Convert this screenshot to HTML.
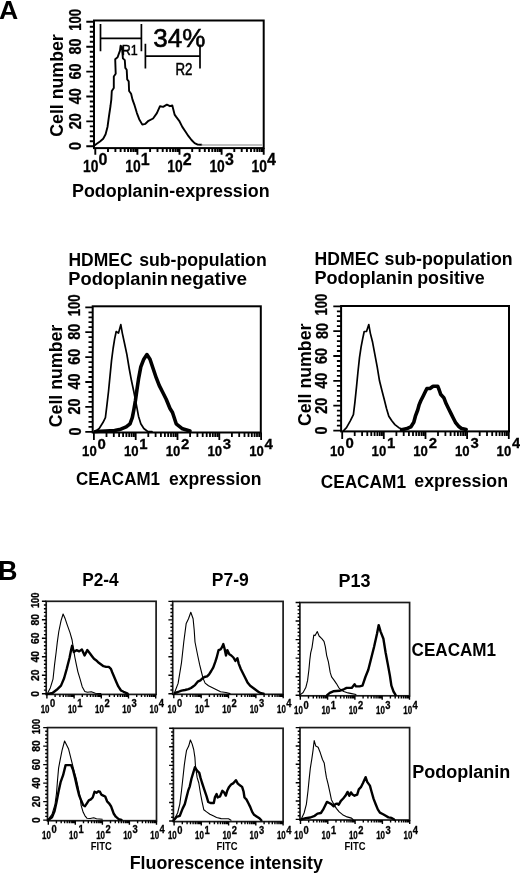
<!DOCTYPE html>
<html><head><meta charset="utf-8"><style>
html,body{margin:0;padding:0;background:#fff;}
svg{display:block;}
text{font-family:'Liberation Sans', Arial, sans-serif;fill:#000;}
</style></head><body>
<svg width="520" height="877" viewBox="0 0 520 877">
<rect width="520" height="877" fill="#fff"/>
<text x="-0.9" y="18.7" font-size="26.6" font-weight="bold">A</text>
<rect x="94.0" y="20.5" width="169.7" height="127.6" fill="none" stroke="#000" stroke-width="2"/>
<path d="M94.0,146.3H86.3M94.0,141.3H89.8M94.0,136.3H89.8M94.0,131.4H89.8M94.0,126.4H89.8M94.0,121.4H86.3M94.0,116.4H89.8M94.0,111.4H89.8M94.0,106.5H89.8M94.0,101.5H89.8M94.0,96.5H86.3M94.0,91.5H89.8M94.0,86.5H89.8M94.0,81.6H89.8M94.0,76.6H89.8M94.0,71.6H86.3M94.0,66.6H89.8M94.0,61.6H89.8M94.0,56.7H89.8M94.0,51.7H89.8M94.0,46.7H86.3M94.0,41.7H89.8M94.0,36.7H89.8M94.0,31.8H89.8M94.0,26.8H89.8M94.0,21.8H86.3M95.3,148.1V154.8M108.0,148.1V152.1M115.4,148.1V152.1M120.6,148.1V152.1M124.7,148.1V152.1M128.1,148.1V152.1M130.9,148.1V152.1M133.3,148.1V152.1M135.5,148.1V152.1M137.4,148.1V154.8M150.1,148.1V152.1M157.5,148.1V152.1M162.7,148.1V152.1M166.8,148.1V152.1M170.2,148.1V152.1M173.0,148.1V152.1M175.4,148.1V152.1M177.6,148.1V152.1M179.5,148.1V154.8M192.2,148.1V152.1M199.6,148.1V152.1M204.8,148.1V152.1M208.9,148.1V152.1M212.3,148.1V152.1M215.1,148.1V152.1M217.5,148.1V152.1M219.7,148.1V152.1M221.6,148.1V154.8M234.3,148.1V152.1M241.7,148.1V152.1M246.9,148.1V152.1M251.0,148.1V152.1M254.4,148.1V152.1M257.2,148.1V152.1M259.6,148.1V152.1M261.8,148.1V152.1M263.7,148.1V154.8" fill="none" stroke="#000" stroke-width="1.9"/>
<text x="81.2" y="146.0" font-size="16" font-weight="bold" stroke="#000" stroke-width="0.3" text-anchor="middle" textLength="8.0" lengthAdjust="spacingAndGlyphs" transform="rotate(-90 81.2 146.0)">0</text>
<text x="81.2" y="121.2" font-size="16" font-weight="bold" stroke="#000" stroke-width="0.3" text-anchor="middle" textLength="16" lengthAdjust="spacingAndGlyphs" transform="rotate(-90 81.2 121.2)">20</text>
<text x="81.2" y="96.3" font-size="16" font-weight="bold" stroke="#000" stroke-width="0.3" text-anchor="middle" textLength="16" lengthAdjust="spacingAndGlyphs" transform="rotate(-90 81.2 96.3)">40</text>
<text x="81.2" y="71.5" font-size="16" font-weight="bold" stroke="#000" stroke-width="0.3" text-anchor="middle" textLength="16" lengthAdjust="spacingAndGlyphs" transform="rotate(-90 81.2 71.5)">60</text>
<text x="81.2" y="46.6" font-size="16" font-weight="bold" stroke="#000" stroke-width="0.3" text-anchor="middle" textLength="16" lengthAdjust="spacingAndGlyphs" transform="rotate(-90 81.2 46.6)">80</text>
<text x="81.2" y="19.8" font-size="16" font-weight="bold" stroke="#000" stroke-width="0.3" text-anchor="middle" textLength="22" lengthAdjust="spacingAndGlyphs" transform="rotate(-90 81.2 19.8)">100</text>
<text x="63.0" y="85.5" font-size="18.5" font-weight="bold" text-anchor="middle" textLength="102.5" lengthAdjust="spacingAndGlyphs" transform="rotate(-90 63.0 85.5)">Cell number</text>
<text x="98.5" y="172.3" font-size="16" font-weight="bold" stroke="#000" stroke-width="0.3" text-anchor="end" textLength="15.4" lengthAdjust="spacingAndGlyphs">10</text>
<text x="98.6" y="164.6" font-size="16" font-weight="bold" stroke="#000" stroke-width="0.3" textLength="8.9" lengthAdjust="spacingAndGlyphs">0</text>
<text x="140.6" y="172.3" font-size="16" font-weight="bold" stroke="#000" stroke-width="0.3" text-anchor="end" textLength="15.4" lengthAdjust="spacingAndGlyphs">10</text>
<text x="140.7" y="164.6" font-size="16" font-weight="bold" stroke="#000" stroke-width="0.3" textLength="8.9" lengthAdjust="spacingAndGlyphs">1</text>
<text x="182.7" y="172.3" font-size="16" font-weight="bold" stroke="#000" stroke-width="0.3" text-anchor="end" textLength="15.4" lengthAdjust="spacingAndGlyphs">10</text>
<text x="182.8" y="164.6" font-size="16" font-weight="bold" stroke="#000" stroke-width="0.3" textLength="8.9" lengthAdjust="spacingAndGlyphs">2</text>
<text x="224.8" y="172.3" font-size="16" font-weight="bold" stroke="#000" stroke-width="0.3" text-anchor="end" textLength="15.4" lengthAdjust="spacingAndGlyphs">10</text>
<text x="224.9" y="164.6" font-size="16" font-weight="bold" stroke="#000" stroke-width="0.3" textLength="8.9" lengthAdjust="spacingAndGlyphs">3</text>
<text x="266.9" y="172.3" font-size="16" font-weight="bold" stroke="#000" stroke-width="0.3" text-anchor="end" textLength="15.4" lengthAdjust="spacingAndGlyphs">10</text>
<text x="267.0" y="164.6" font-size="16" font-weight="bold" stroke="#000" stroke-width="0.3" textLength="8.9" lengthAdjust="spacingAndGlyphs">4</text>
<text x="72" y="196.8" font-size="18" font-weight="bold" textLength="197.6" lengthAdjust="spacingAndGlyphs">Podoplanin-expression</text>
<path d="M100.5,24V51.3M100.5,38.3H141.4M141.4,24V51.3" fill="none" stroke="#000" stroke-width="1.7"/>
<path d="M145.4,43.8V68.4M145.4,56.2H200M200,44.6V68.4" fill="none" stroke="#000" stroke-width="1.7"/>
<text x="121.8" y="55.2" font-size="14.5" textLength="16" lengthAdjust="spacingAndGlyphs" stroke="#000" stroke-width="0.5">R1</text>
<text x="175.4" y="75.0" font-size="16" textLength="17" lengthAdjust="spacingAndGlyphs" stroke="#000" stroke-width="0.5">R2</text>
<text x="153.3" y="47.0" font-size="26" textLength="52" lengthAdjust="spacingAndGlyphs" stroke="#000" stroke-width="0.6">34%</text>
<polyline points="93.8,146.0 96.4,144.0 100.0,141.5 103.2,138.7 105.6,134.3 107.5,127.0 109.0,116.0 110.5,106.0 111.3,99.6 111.8,91.0 113.8,88.0 113.8,76.5 115.7,73.7 115.2,59.2 117.6,57.3 118.6,54.4 120.0,50.6 120.6,45.8 121.9,46.7 122.9,58.3 124.8,60.2 125.3,67.9 126.7,69.8 127.2,79.4 128.7,81.3 129.1,91.0 131.1,93.8 132.5,99.6 134.6,105.4 136.9,113.1 139.2,119.2 142.3,124.6 145.4,123.8 148.5,120.8 153.1,118.5 156.9,113.1 160.0,106.2 163.1,106.9 166.9,104.6 170.0,106.2 172.3,105.4 174.6,114.6 176.2,116.9 179.2,120.8 182.3,126.9 185.4,131.5 188.5,136.2 191.5,140.0 194.6,143.1 197.7,144.6 201.5,144.8" fill="none" stroke="#000" stroke-width="1.9" stroke-linejoin="round" stroke-linecap="round"/>
<line x1="201.5" y1="145" x2="262" y2="145" stroke="#aaa" stroke-width="1.6"/>
<text x="68.5" y="265.8" font-size="18.2" font-weight="bold" textLength="64" lengthAdjust="spacingAndGlyphs">HDMEC</text>
<text x="139.2" y="265.8" font-size="18.2" font-weight="bold" textLength="127.5" lengthAdjust="spacingAndGlyphs">sub-population</text>
<text x="68.3" y="285.2" font-size="18.2" font-weight="bold" textLength="99.5" lengthAdjust="spacingAndGlyphs">Podoplanin</text>
<text x="170.2" y="285.2" font-size="18.2" font-weight="bold" textLength="77" lengthAdjust="spacingAndGlyphs">negative</text>
<rect x="92.7" y="306.3" width="168.1" height="126.2" fill="none" stroke="#000" stroke-width="2"/>
<path d="M92.7,431.8H85.3M92.7,426.8H88.5M92.7,421.8H88.5M92.7,416.9H88.5M92.7,411.9H88.5M92.7,406.9H85.3M92.7,401.9H88.5M92.7,396.9H88.5M92.7,392.0H88.5M92.7,387.0H88.5M92.7,382.0H85.3M92.7,377.0H88.5M92.7,372.0H88.5M92.7,367.1H88.5M92.7,362.1H88.5M92.7,357.1H85.3M92.7,352.1H88.5M92.7,347.1H88.5M92.7,342.2H88.5M92.7,337.2H88.5M92.7,332.2H85.3M92.7,327.2H88.5M92.7,322.2H88.5M92.7,317.3H88.5M92.7,312.3H88.5M92.7,307.3H85.3M93.9,432.5V440.0M106.5,432.5V437.0M113.8,432.5V437.0M119.1,432.5V437.0M123.1,432.5V437.0M126.4,432.5V437.0M129.2,432.5V437.0M131.6,432.5V437.0M133.8,432.5V437.0M135.7,432.5V440.0M148.3,432.5V437.0M155.6,432.5V437.0M160.9,432.5V437.0M164.9,432.5V437.0M168.2,432.5V437.0M171.0,432.5V437.0M173.4,432.5V437.0M175.6,432.5V437.0M177.5,432.5V440.0M190.1,432.5V437.0M197.4,432.5V437.0M202.7,432.5V437.0M206.7,432.5V437.0M210.0,432.5V437.0M212.8,432.5V437.0M215.2,432.5V437.0M217.4,432.5V437.0M219.3,432.5V440.0M231.9,432.5V437.0M239.2,432.5V437.0M244.5,432.5V437.0M248.5,432.5V437.0M251.8,432.5V437.0M254.6,432.5V437.0M257.0,432.5V437.0M259.2,432.5V437.0M261.1,432.5V440.0" fill="none" stroke="#000" stroke-width="1.8"/>
<text x="80.5" y="431.5" font-size="16" font-weight="bold" stroke="#000" stroke-width="0.3" text-anchor="middle" textLength="8.0" lengthAdjust="spacingAndGlyphs" transform="rotate(-90 80.5 431.5)">0</text>
<text x="80.5" y="406.6" font-size="16" font-weight="bold" stroke="#000" stroke-width="0.3" text-anchor="middle" textLength="16" lengthAdjust="spacingAndGlyphs" transform="rotate(-90 80.5 406.6)">20</text>
<text x="80.5" y="381.6" font-size="16" font-weight="bold" stroke="#000" stroke-width="0.3" text-anchor="middle" textLength="16" lengthAdjust="spacingAndGlyphs" transform="rotate(-90 80.5 381.6)">40</text>
<text x="80.5" y="356.7" font-size="16" font-weight="bold" stroke="#000" stroke-width="0.3" text-anchor="middle" textLength="16" lengthAdjust="spacingAndGlyphs" transform="rotate(-90 80.5 356.7)">60</text>
<text x="80.5" y="331.7" font-size="16" font-weight="bold" stroke="#000" stroke-width="0.3" text-anchor="middle" textLength="16" lengthAdjust="spacingAndGlyphs" transform="rotate(-90 80.5 331.7)">80</text>
<text x="80.5" y="305.3" font-size="16" font-weight="bold" stroke="#000" stroke-width="0.3" text-anchor="middle" textLength="22" lengthAdjust="spacingAndGlyphs" transform="rotate(-90 80.5 305.3)">100</text>
<text x="61.6" y="376.0" font-size="18.5" font-weight="bold" text-anchor="middle" textLength="102.5" lengthAdjust="spacingAndGlyphs" transform="rotate(-90 61.6 376.0)">Cell number</text>
<text x="96.7" y="456.2" font-size="15" font-weight="bold" stroke="#000" stroke-width="0.3" text-anchor="end" textLength="14.6" lengthAdjust="spacingAndGlyphs">10</text>
<text x="97.4" y="449" font-size="15" font-weight="bold" stroke="#000" stroke-width="0.3" textLength="8.3" lengthAdjust="spacingAndGlyphs">0</text>
<text x="138.5" y="456.2" font-size="15" font-weight="bold" stroke="#000" stroke-width="0.3" text-anchor="end" textLength="14.6" lengthAdjust="spacingAndGlyphs">10</text>
<text x="139.2" y="449" font-size="15" font-weight="bold" stroke="#000" stroke-width="0.3" textLength="8.3" lengthAdjust="spacingAndGlyphs">1</text>
<text x="180.3" y="456.2" font-size="15" font-weight="bold" stroke="#000" stroke-width="0.3" text-anchor="end" textLength="14.6" lengthAdjust="spacingAndGlyphs">10</text>
<text x="181.0" y="449" font-size="15" font-weight="bold" stroke="#000" stroke-width="0.3" textLength="8.3" lengthAdjust="spacingAndGlyphs">2</text>
<text x="222.1" y="456.2" font-size="15" font-weight="bold" stroke="#000" stroke-width="0.3" text-anchor="end" textLength="14.6" lengthAdjust="spacingAndGlyphs">10</text>
<text x="222.8" y="449" font-size="15" font-weight="bold" stroke="#000" stroke-width="0.3" textLength="8.3" lengthAdjust="spacingAndGlyphs">3</text>
<text x="263.9" y="456.2" font-size="15" font-weight="bold" stroke="#000" stroke-width="0.3" text-anchor="end" textLength="14.6" lengthAdjust="spacingAndGlyphs">10</text>
<text x="264.6" y="449" font-size="15" font-weight="bold" stroke="#000" stroke-width="0.3" textLength="8.3" lengthAdjust="spacingAndGlyphs">4</text>
<text x="76.0" y="484.8" font-size="17.5" font-weight="bold" textLength="84" lengthAdjust="spacingAndGlyphs">CEACAM1</text>
<text x="169.0" y="484.8" font-size="17.5" font-weight="bold" textLength="92.5" lengthAdjust="spacingAndGlyphs">expression</text>
<text x="314.6" y="264.6" font-size="18.2" font-weight="bold" textLength="64.5" lengthAdjust="spacingAndGlyphs">HDMEC</text>
<text x="384.6" y="264.6" font-size="18.2" font-weight="bold" textLength="128" lengthAdjust="spacingAndGlyphs">sub-population</text>
<text x="314.5" y="284.2" font-size="18.2" font-weight="bold" textLength="98.5" lengthAdjust="spacingAndGlyphs">Podoplanin</text>
<text x="417.2" y="284.2" font-size="18.2" font-weight="bold" textLength="67.5" lengthAdjust="spacingAndGlyphs">positive</text>
<rect x="341.1" y="306.0" width="167.9" height="125.4" fill="none" stroke="#000" stroke-width="2"/>
<path d="M341.1,430.6H333.3M341.1,425.6H336.9M341.1,420.7H336.9M341.1,415.7H336.9M341.1,410.7H336.9M341.1,405.7H333.3M341.1,400.8H336.9M341.1,395.8H336.9M341.1,390.8H336.9M341.1,385.9H336.9M341.1,380.9H333.3M341.1,375.9H336.9M341.1,370.9H336.9M341.1,366.0H336.9M341.1,361.0H336.9M341.1,356.0H333.3M341.1,351.0H336.9M341.1,346.1H336.9M341.1,341.1H336.9M341.1,336.1H336.9M341.1,331.2H333.3M341.1,326.2H336.9M341.1,321.2H336.9M341.1,316.2H336.9M341.1,311.3H336.9M341.1,306.3H333.3M342.2,431.4V439.0M354.7,431.4V435.9M362.1,431.4V435.9M367.3,431.4V435.9M371.3,431.4V435.9M374.6,431.4V435.9M377.4,431.4V435.9M379.8,431.4V435.9M381.9,431.4V435.9M383.8,431.4V439.0M396.4,431.4V435.9M403.7,431.4V435.9M408.9,431.4V435.9M413.0,431.4V435.9M416.3,431.4V435.9M419.0,431.4V435.9M421.5,431.4V435.9M423.6,431.4V435.9M425.5,431.4V439.0M438.0,431.4V435.9M445.4,431.4V435.9M450.6,431.4V435.9M454.6,431.4V435.9M457.9,431.4V435.9M460.7,431.4V435.9M463.1,431.4V435.9M465.2,431.4V435.9M467.1,431.4V439.0M479.7,431.4V435.9M487.0,431.4V435.9M492.2,431.4V435.9M496.3,431.4V435.9M499.6,431.4V435.9M502.3,431.4V435.9M504.8,431.4V435.9M506.9,431.4V435.9M508.8,431.4V439.0" fill="none" stroke="#000" stroke-width="1.8"/>
<text x="327.5" y="430.6" font-size="16" font-weight="bold" stroke="#000" stroke-width="0.3" text-anchor="middle" textLength="8.0" lengthAdjust="spacingAndGlyphs" transform="rotate(-90 327.5 430.6)">0</text>
<text x="327.5" y="405.7" font-size="16" font-weight="bold" stroke="#000" stroke-width="0.3" text-anchor="middle" textLength="16" lengthAdjust="spacingAndGlyphs" transform="rotate(-90 327.5 405.7)">20</text>
<text x="327.5" y="380.8" font-size="16" font-weight="bold" stroke="#000" stroke-width="0.3" text-anchor="middle" textLength="16" lengthAdjust="spacingAndGlyphs" transform="rotate(-90 327.5 380.8)">40</text>
<text x="327.5" y="355.9" font-size="16" font-weight="bold" stroke="#000" stroke-width="0.3" text-anchor="middle" textLength="16" lengthAdjust="spacingAndGlyphs" transform="rotate(-90 327.5 355.9)">60</text>
<text x="327.5" y="331.0" font-size="16" font-weight="bold" stroke="#000" stroke-width="0.3" text-anchor="middle" textLength="16" lengthAdjust="spacingAndGlyphs" transform="rotate(-90 327.5 331.0)">80</text>
<text x="327.5" y="304.6" font-size="16" font-weight="bold" stroke="#000" stroke-width="0.3" text-anchor="middle" textLength="22" lengthAdjust="spacingAndGlyphs" transform="rotate(-90 327.5 304.6)">100</text>
<text x="311.0" y="374.8" font-size="18.5" font-weight="bold" text-anchor="middle" textLength="102.5" lengthAdjust="spacingAndGlyphs" transform="rotate(-90 311.0 374.8)">Cell number</text>
<text x="344.6" y="455.7" font-size="15" font-weight="bold" stroke="#000" stroke-width="0.3" text-anchor="end" textLength="14.6" lengthAdjust="spacingAndGlyphs">10</text>
<text x="345.5" y="447.8" font-size="15" font-weight="bold" stroke="#000" stroke-width="0.3" textLength="8.3" lengthAdjust="spacingAndGlyphs">0</text>
<text x="386.2" y="455.7" font-size="15" font-weight="bold" stroke="#000" stroke-width="0.3" text-anchor="end" textLength="14.6" lengthAdjust="spacingAndGlyphs">10</text>
<text x="387.1" y="447.8" font-size="15" font-weight="bold" stroke="#000" stroke-width="0.3" textLength="8.3" lengthAdjust="spacingAndGlyphs">1</text>
<text x="427.9" y="455.7" font-size="15" font-weight="bold" stroke="#000" stroke-width="0.3" text-anchor="end" textLength="14.6" lengthAdjust="spacingAndGlyphs">10</text>
<text x="428.8" y="447.8" font-size="15" font-weight="bold" stroke="#000" stroke-width="0.3" textLength="8.3" lengthAdjust="spacingAndGlyphs">2</text>
<text x="469.5" y="455.7" font-size="15" font-weight="bold" stroke="#000" stroke-width="0.3" text-anchor="end" textLength="14.6" lengthAdjust="spacingAndGlyphs">10</text>
<text x="470.4" y="447.8" font-size="15" font-weight="bold" stroke="#000" stroke-width="0.3" textLength="8.3" lengthAdjust="spacingAndGlyphs">3</text>
<text x="511.2" y="455.7" font-size="15" font-weight="bold" stroke="#000" stroke-width="0.3" text-anchor="end" textLength="14.6" lengthAdjust="spacingAndGlyphs">10</text>
<text x="512.1" y="447.8" font-size="15" font-weight="bold" stroke="#000" stroke-width="0.3" textLength="8.3" lengthAdjust="spacingAndGlyphs">4</text>
<text x="320.7" y="487.6" font-size="17.5" font-weight="bold" textLength="85.3" lengthAdjust="spacingAndGlyphs">CEACAM1</text>
<text x="414.3" y="487.4" font-size="17.5" font-weight="bold" textLength="93.7" lengthAdjust="spacingAndGlyphs">expression</text>
<polyline points="95.4,431.5 99.2,428.5 103.1,422.3 105.4,417.7 106.9,405.4 108.5,391.5 110.0,376.2 111.5,360.8 113.1,348.5 114.6,339.2 116.2,331.5 118.5,333.1 120.8,324.6 122.3,333.1 124.6,343.8 126.9,354.6 129.2,368.5 131.5,380.8 133.8,391.5 136.2,403.8 138.5,416.2 140.8,423.8 143.8,428.5 147.7,431.5 152.0,431.5" fill="none" stroke="#000" stroke-width="1.7" stroke-linejoin="round" stroke-linecap="round"/>
<polyline points="95.4,431.5 105.4,431.0 114.6,430.5 120.8,429.2 126.2,426.9 130.0,423.8 132.3,417.7 133.8,410.0 135.4,400.8 136.9,390.0 138.5,379.2 140.8,366.9 143.8,359.2 146.9,354.6 150.0,359.2 153.1,368.5 156.2,377.7 159.2,385.4 162.3,391.5 166.2,399.2 170.0,408.5 172.5,412.5 176.2,423.8 182.5,428.8 190.0,431.0" fill="none" stroke="#000" stroke-width="3.6" stroke-linejoin="round" stroke-linecap="round"/>
<polyline points="343.4,430.8 346.5,427.7 350.3,420.8 353.4,414.6 354.9,402.3 356.5,386.9 358.0,371.5 359.5,357.7 361.1,346.9 362.6,339.2 364.2,331.5 366.5,331.5 368.8,324.6 370.3,333.1 372.6,342.3 374.9,354.6 377.2,366.9 379.5,380.8 381.8,390.0 384.2,399.2 386.5,408.5 388.8,416.2 391.8,420.8 394.9,424.6 398.8,427.7 402.6,429.2 405.7,429.2 408.8,428.5" fill="none" stroke="#000" stroke-width="1.7" stroke-linejoin="round" stroke-linecap="round"/>
<polyline points="401.5,429.8 406.2,428.8 410.8,426.9 413.8,422.3 415.4,416.2 417.7,410.0 419.2,404.6 420.8,400.8 423.1,396.2 425.4,391.5 426.9,388.5 430.0,388.5 433.1,386.2 437.7,386.2 439.2,390.0 440.8,394.6 443.8,397.7 446.2,403.8 448.5,408.5 450.8,413.1 453.1,417.7 455.4,422.3 458.5,426.2 461.5,428.5 466.2,429.5" fill="none" stroke="#000" stroke-width="3.6" stroke-linejoin="round" stroke-linecap="round"/>
<text x="-2" y="579.6" font-size="27" font-weight="bold">B</text>
<text x="82.2" y="586" font-size="18.5" font-weight="bold" textLength="36.5" lengthAdjust="spacingAndGlyphs">P2-4</text>
<text x="211.8" y="586" font-size="18.5" font-weight="bold" textLength="37" lengthAdjust="spacingAndGlyphs">P7-9</text>
<text x="338.5" y="587.4" font-size="18.5" font-weight="bold" textLength="32" lengthAdjust="spacingAndGlyphs">P13</text>
<text x="411.6" y="655.6" font-size="17.5" font-weight="bold" textLength="84.5" lengthAdjust="spacingAndGlyphs">CEACAM1</text>
<text x="412.2" y="778.3" font-size="18" font-weight="bold" textLength="98" lengthAdjust="spacingAndGlyphs">Podoplanin</text>
<text x="129.7" y="868.6" font-size="18.8" font-weight="bold" textLength="193.2" lengthAdjust="spacingAndGlyphs">Fluorescence intensity</text>
<rect x="46.2" y="601.3" width="109.9" height="93.1" fill="none" stroke="#1a1a1a" stroke-width="1.7"/>
<path d="M46.2,693.8H41.9M46.2,690.1H43.9M46.2,686.4H43.9M46.2,682.7H43.9M46.2,679.0H43.9M46.2,675.3H41.9M46.2,671.6H43.9M46.2,667.9H43.9M46.2,664.2H43.9M46.2,660.5H43.9M46.2,656.8H41.9M46.2,653.1H43.9M46.2,649.4H43.9M46.2,645.7H43.9M46.2,642.0H43.9M46.2,638.3H41.9M46.2,634.6H43.9M46.2,630.9H43.9M46.2,627.2H43.9M46.2,623.5H43.9M46.2,619.8H41.9M46.2,616.1H43.9M46.2,612.4H43.9M46.2,608.7H43.9M46.2,605.0H43.9M46.2,601.3H41.9M46.9,694.4V698.4M55.1,694.4V697.0M59.9,694.4V697.0M63.3,694.4V697.0M65.9,694.4V697.0M68.1,694.4V697.0M69.9,694.4V697.0M71.5,694.4V697.0M72.9,694.4V697.0M74.1,694.4V698.4M82.3,694.4V697.0M87.1,694.4V697.0M90.5,694.4V697.0M93.1,694.4V697.0M95.3,694.4V697.0M97.1,694.4V697.0M98.7,694.4V697.0M100.1,694.4V697.0M101.3,694.4V698.4M109.5,694.4V697.0M114.3,694.4V697.0M117.7,694.4V697.0M120.3,694.4V697.0M122.5,694.4V697.0M124.3,694.4V697.0M125.9,694.4V697.0M127.3,694.4V697.0M128.5,694.4V698.4M136.7,694.4V697.0M141.5,694.4V697.0M144.9,694.4V697.0M147.5,694.4V697.0M149.7,694.4V697.0M151.5,694.4V697.0M153.1,694.4V697.0M154.5,694.4V697.0M155.7,694.4V698.4" fill="none" stroke="#000" stroke-width="1.4"/>
<text x="49.5" y="713.0" font-size="10" font-weight="bold" stroke="#000" stroke-width="0.3" text-anchor="end" textLength="8.8" lengthAdjust="spacingAndGlyphs">10</text>
<text x="50.0" y="707.2" font-size="10" font-weight="bold" stroke="#000" stroke-width="0.3" textLength="5.2" lengthAdjust="spacingAndGlyphs">0</text>
<text x="76.7" y="713.0" font-size="10" font-weight="bold" stroke="#000" stroke-width="0.3" text-anchor="end" textLength="8.8" lengthAdjust="spacingAndGlyphs">10</text>
<text x="77.2" y="707.2" font-size="10" font-weight="bold" stroke="#000" stroke-width="0.3" textLength="5.2" lengthAdjust="spacingAndGlyphs">1</text>
<text x="103.9" y="713.0" font-size="10" font-weight="bold" stroke="#000" stroke-width="0.3" text-anchor="end" textLength="8.8" lengthAdjust="spacingAndGlyphs">10</text>
<text x="104.4" y="707.2" font-size="10" font-weight="bold" stroke="#000" stroke-width="0.3" textLength="5.2" lengthAdjust="spacingAndGlyphs">2</text>
<text x="131.1" y="713.0" font-size="10" font-weight="bold" stroke="#000" stroke-width="0.3" text-anchor="end" textLength="8.8" lengthAdjust="spacingAndGlyphs">10</text>
<text x="131.6" y="707.2" font-size="10" font-weight="bold" stroke="#000" stroke-width="0.3" textLength="5.2" lengthAdjust="spacingAndGlyphs">3</text>
<text x="158.3" y="713.0" font-size="10" font-weight="bold" stroke="#000" stroke-width="0.3" text-anchor="end" textLength="8.8" lengthAdjust="spacingAndGlyphs">10</text>
<text x="158.8" y="707.2" font-size="10" font-weight="bold" stroke="#000" stroke-width="0.3" textLength="5.2" lengthAdjust="spacingAndGlyphs">4</text>
<text x="38.6" y="693.8" font-size="10" font-weight="bold" stroke="#000" stroke-width="0.3" text-anchor="middle" textLength="5.75" lengthAdjust="spacingAndGlyphs" transform="rotate(-90 38.6 693.8)">0</text>
<text x="38.6" y="675.3" font-size="10" font-weight="bold" stroke="#000" stroke-width="0.3" text-anchor="middle" textLength="11.5" lengthAdjust="spacingAndGlyphs" transform="rotate(-90 38.6 675.3)">20</text>
<text x="38.6" y="656.8" font-size="10" font-weight="bold" stroke="#000" stroke-width="0.3" text-anchor="middle" textLength="11.5" lengthAdjust="spacingAndGlyphs" transform="rotate(-90 38.6 656.8)">40</text>
<text x="38.6" y="638.3" font-size="10" font-weight="bold" stroke="#000" stroke-width="0.3" text-anchor="middle" textLength="11.5" lengthAdjust="spacingAndGlyphs" transform="rotate(-90 38.6 638.3)">60</text>
<text x="38.6" y="619.8" font-size="10" font-weight="bold" stroke="#000" stroke-width="0.3" text-anchor="middle" textLength="11.5" lengthAdjust="spacingAndGlyphs" transform="rotate(-90 38.6 619.8)">80</text>
<text x="38.6" y="600.3" font-size="10" font-weight="bold" stroke="#000" stroke-width="0.3" text-anchor="middle" textLength="15.5" lengthAdjust="spacingAndGlyphs" transform="rotate(-90 38.6 600.3)">100</text>
<rect x="172.7" y="601.4" width="110.4" height="92.9" fill="none" stroke="#1a1a1a" stroke-width="1.7"/>
<path d="M172.7,693.7H168.4M172.7,690.0H170.4M172.7,686.3H170.4M172.7,682.6H170.4M172.7,678.9H170.4M172.7,675.2H168.4M172.7,671.5H170.4M172.7,667.9H170.4M172.7,664.2H170.4M172.7,660.5H170.4M172.7,656.8H168.4M172.7,653.1H170.4M172.7,649.4H170.4M172.7,645.7H170.4M172.7,642.0H170.4M172.7,638.3H168.4M172.7,634.6H170.4M172.7,630.9H170.4M172.7,627.2H170.4M172.7,623.6H170.4M172.7,619.9H168.4M172.7,616.2H170.4M172.7,612.5H170.4M172.7,608.8H170.4M172.7,605.1H170.4M172.7,601.4H168.4M173.8,694.3V698.3M182.0,694.3V696.9M186.8,694.3V696.9M190.3,694.3V696.9M192.9,694.3V696.9M195.1,694.3V696.9M196.9,694.3V696.9M198.5,694.3V696.9M199.9,694.3V696.9M201.2,694.3V698.3M209.4,694.3V696.9M214.2,694.3V696.9M217.6,694.3V696.9M220.3,694.3V696.9M222.4,694.3V696.9M224.3,694.3V696.9M225.8,694.3V696.9M227.2,694.3V696.9M228.5,694.3V698.3M236.7,694.3V696.9M241.5,694.3V696.9M245.0,694.3V696.9M247.6,694.3V696.9M249.8,694.3V696.9M251.6,694.3V696.9M253.2,694.3V696.9M254.6,694.3V696.9M255.9,694.3V698.3M264.1,694.3V696.9M268.9,694.3V696.9M272.3,694.3V696.9M275.0,694.3V696.9M277.1,694.3V696.9M279.0,694.3V696.9M280.5,694.3V696.9M281.9,694.3V696.9M283.2,694.3V698.3" fill="none" stroke="#000" stroke-width="1.4"/>
<text x="176.4" y="713.0" font-size="10" font-weight="bold" stroke="#000" stroke-width="0.3" text-anchor="end" textLength="8.8" lengthAdjust="spacingAndGlyphs">10</text>
<text x="176.9" y="707.2" font-size="10" font-weight="bold" stroke="#000" stroke-width="0.3" textLength="5.2" lengthAdjust="spacingAndGlyphs">0</text>
<text x="203.8" y="713.0" font-size="10" font-weight="bold" stroke="#000" stroke-width="0.3" text-anchor="end" textLength="8.8" lengthAdjust="spacingAndGlyphs">10</text>
<text x="204.2" y="707.2" font-size="10" font-weight="bold" stroke="#000" stroke-width="0.3" textLength="5.2" lengthAdjust="spacingAndGlyphs">1</text>
<text x="231.1" y="713.0" font-size="10" font-weight="bold" stroke="#000" stroke-width="0.3" text-anchor="end" textLength="8.8" lengthAdjust="spacingAndGlyphs">10</text>
<text x="231.6" y="707.2" font-size="10" font-weight="bold" stroke="#000" stroke-width="0.3" textLength="5.2" lengthAdjust="spacingAndGlyphs">2</text>
<text x="258.5" y="713.0" font-size="10" font-weight="bold" stroke="#000" stroke-width="0.3" text-anchor="end" textLength="8.8" lengthAdjust="spacingAndGlyphs">10</text>
<text x="259.0" y="707.2" font-size="10" font-weight="bold" stroke="#000" stroke-width="0.3" textLength="5.2" lengthAdjust="spacingAndGlyphs">3</text>
<text x="285.8" y="713.0" font-size="10" font-weight="bold" stroke="#000" stroke-width="0.3" text-anchor="end" textLength="8.8" lengthAdjust="spacingAndGlyphs">10</text>
<text x="286.3" y="707.2" font-size="10" font-weight="bold" stroke="#000" stroke-width="0.3" textLength="5.2" lengthAdjust="spacingAndGlyphs">4</text>
<rect x="299.9" y="602.5" width="109.7" height="93.3" fill="none" stroke="#1a1a1a" stroke-width="1.7"/>
<path d="M299.9,695.2H295.6M299.9,691.5H297.6M299.9,687.8H297.6M299.9,684.1H297.6M299.9,680.4H297.6M299.9,676.7H295.6M299.9,673.0H297.6M299.9,669.2H297.6M299.9,665.5H297.6M299.9,661.8H297.6M299.9,658.1H295.6M299.9,654.4H297.6M299.9,650.7H297.6M299.9,647.0H297.6M299.9,643.3H297.6M299.9,639.6H295.6M299.9,635.9H297.6M299.9,632.2H297.6M299.9,628.5H297.6M299.9,624.7H297.6M299.9,621.0H295.6M299.9,617.3H297.6M299.9,613.6H297.6M299.9,609.9H297.6M299.9,606.2H297.6M299.9,602.5H295.6M300.3,695.8V699.8M308.5,695.8V698.4M313.3,695.8V698.4M316.7,695.8V698.4M319.4,695.8V698.4M321.5,695.8V698.4M323.4,695.8V698.4M325.0,695.8V698.4M326.4,695.8V698.4M327.6,695.8V699.8M335.8,695.8V698.4M340.6,695.8V698.4M344.0,695.8V698.4M346.7,695.8V698.4M348.8,695.8V698.4M350.7,695.8V698.4M352.3,695.8V698.4M353.7,695.8V698.4M354.9,695.8V699.8M363.1,695.8V698.4M367.9,695.8V698.4M371.3,695.8V698.4M374.0,695.8V698.4M376.1,695.8V698.4M378.0,695.8V698.4M379.6,695.8V698.4M381.0,695.8V698.4M382.2,695.8V699.8M390.4,695.8V698.4M395.2,695.8V698.4M398.6,695.8V698.4M401.3,695.8V698.4M403.4,695.8V698.4M405.3,695.8V698.4M406.9,695.8V698.4M408.3,695.8V698.4M409.5,695.8V699.8" fill="none" stroke="#000" stroke-width="1.4"/>
<text x="302.9" y="713.6" font-size="10" font-weight="bold" stroke="#000" stroke-width="0.3" text-anchor="end" textLength="8.8" lengthAdjust="spacingAndGlyphs">10</text>
<text x="303.4" y="708.6" font-size="10" font-weight="bold" stroke="#000" stroke-width="0.3" textLength="5.2" lengthAdjust="spacingAndGlyphs">0</text>
<text x="330.2" y="713.6" font-size="10" font-weight="bold" stroke="#000" stroke-width="0.3" text-anchor="end" textLength="8.8" lengthAdjust="spacingAndGlyphs">10</text>
<text x="330.7" y="708.6" font-size="10" font-weight="bold" stroke="#000" stroke-width="0.3" textLength="5.2" lengthAdjust="spacingAndGlyphs">1</text>
<text x="357.5" y="713.6" font-size="10" font-weight="bold" stroke="#000" stroke-width="0.3" text-anchor="end" textLength="8.8" lengthAdjust="spacingAndGlyphs">10</text>
<text x="358.0" y="708.6" font-size="10" font-weight="bold" stroke="#000" stroke-width="0.3" textLength="5.2" lengthAdjust="spacingAndGlyphs">2</text>
<text x="384.8" y="713.6" font-size="10" font-weight="bold" stroke="#000" stroke-width="0.3" text-anchor="end" textLength="8.8" lengthAdjust="spacingAndGlyphs">10</text>
<text x="385.3" y="708.6" font-size="10" font-weight="bold" stroke="#000" stroke-width="0.3" textLength="5.2" lengthAdjust="spacingAndGlyphs">3</text>
<text x="412.1" y="713.6" font-size="10" font-weight="bold" stroke="#000" stroke-width="0.3" text-anchor="end" textLength="8.8" lengthAdjust="spacingAndGlyphs">10</text>
<text x="412.6" y="708.6" font-size="10" font-weight="bold" stroke="#000" stroke-width="0.3" textLength="5.2" lengthAdjust="spacingAndGlyphs">4</text>
<rect x="47.5" y="727.6" width="109.0" height="93.1" fill="none" stroke="#1a1a1a" stroke-width="1.7"/>
<path d="M47.5,820.1H43.2M47.5,816.4H45.2M47.5,812.7H45.2M47.5,809.0H45.2M47.5,805.3H45.2M47.5,801.6H43.2M47.5,797.9H45.2M47.5,794.2H45.2M47.5,790.5H45.2M47.5,786.8H45.2M47.5,783.1H43.2M47.5,779.4H45.2M47.5,775.7H45.2M47.5,772.0H45.2M47.5,768.3H45.2M47.5,764.6H43.2M47.5,760.9H45.2M47.5,757.2H45.2M47.5,753.5H45.2M47.5,749.8H45.2M47.5,746.1H43.2M47.5,742.4H45.2M47.5,738.7H45.2M47.5,735.0H45.2M47.5,731.3H45.2M47.5,727.6H43.2M48.3,820.7V824.7M56.4,820.7V823.3M61.2,820.7V823.3M64.6,820.7V823.3M67.2,820.7V823.3M69.3,820.7V823.3M71.2,820.7V823.3M72.7,820.7V823.3M74.1,820.7V823.3M75.3,820.7V824.7M83.5,820.7V823.3M88.3,820.7V823.3M91.6,820.7V823.3M94.3,820.7V823.3M96.4,820.7V823.3M98.2,820.7V823.3M99.8,820.7V823.3M101.2,820.7V823.3M102.4,820.7V824.7M110.5,820.7V823.3M115.3,820.7V823.3M118.7,820.7V823.3M121.3,820.7V823.3M123.4,820.7V823.3M125.3,820.7V823.3M126.8,820.7V823.3M128.2,820.7V823.3M129.4,820.7V824.7M137.6,820.7V823.3M142.4,820.7V823.3M145.7,820.7V823.3M148.4,820.7V823.3M150.5,820.7V823.3M152.3,820.7V823.3M153.9,820.7V823.3M155.3,820.7V823.3M156.5,820.7V824.7" fill="none" stroke="#000" stroke-width="1.4"/>
<text x="50.9" y="839.0" font-size="10" font-weight="bold" stroke="#000" stroke-width="0.3" text-anchor="end" textLength="8.8" lengthAdjust="spacingAndGlyphs">10</text>
<text x="51.4" y="833.3" font-size="10" font-weight="bold" stroke="#000" stroke-width="0.3" textLength="5.2" lengthAdjust="spacingAndGlyphs">0</text>
<text x="77.9" y="839.0" font-size="10" font-weight="bold" stroke="#000" stroke-width="0.3" text-anchor="end" textLength="8.8" lengthAdjust="spacingAndGlyphs">10</text>
<text x="78.4" y="833.3" font-size="10" font-weight="bold" stroke="#000" stroke-width="0.3" textLength="5.2" lengthAdjust="spacingAndGlyphs">1</text>
<text x="105.0" y="839.0" font-size="10" font-weight="bold" stroke="#000" stroke-width="0.3" text-anchor="end" textLength="8.8" lengthAdjust="spacingAndGlyphs">10</text>
<text x="105.5" y="833.3" font-size="10" font-weight="bold" stroke="#000" stroke-width="0.3" textLength="5.2" lengthAdjust="spacingAndGlyphs">2</text>
<text x="132.0" y="839.0" font-size="10" font-weight="bold" stroke="#000" stroke-width="0.3" text-anchor="end" textLength="8.8" lengthAdjust="spacingAndGlyphs">10</text>
<text x="132.5" y="833.3" font-size="10" font-weight="bold" stroke="#000" stroke-width="0.3" textLength="5.2" lengthAdjust="spacingAndGlyphs">3</text>
<text x="159.1" y="839.0" font-size="10" font-weight="bold" stroke="#000" stroke-width="0.3" text-anchor="end" textLength="8.8" lengthAdjust="spacingAndGlyphs">10</text>
<text x="159.6" y="833.3" font-size="10" font-weight="bold" stroke="#000" stroke-width="0.3" textLength="5.2" lengthAdjust="spacingAndGlyphs">4</text>
<text x="39.9" y="820.1" font-size="10" font-weight="bold" stroke="#000" stroke-width="0.3" text-anchor="middle" textLength="5.75" lengthAdjust="spacingAndGlyphs" transform="rotate(-90 39.9 820.1)">0</text>
<text x="39.9" y="801.6" font-size="10" font-weight="bold" stroke="#000" stroke-width="0.3" text-anchor="middle" textLength="11.5" lengthAdjust="spacingAndGlyphs" transform="rotate(-90 39.9 801.6)">20</text>
<text x="39.9" y="783.1" font-size="10" font-weight="bold" stroke="#000" stroke-width="0.3" text-anchor="middle" textLength="11.5" lengthAdjust="spacingAndGlyphs" transform="rotate(-90 39.9 783.1)">40</text>
<text x="39.9" y="764.6" font-size="10" font-weight="bold" stroke="#000" stroke-width="0.3" text-anchor="middle" textLength="11.5" lengthAdjust="spacingAndGlyphs" transform="rotate(-90 39.9 764.6)">60</text>
<text x="39.9" y="746.1" font-size="10" font-weight="bold" stroke="#000" stroke-width="0.3" text-anchor="middle" textLength="11.5" lengthAdjust="spacingAndGlyphs" transform="rotate(-90 39.9 746.1)">80</text>
<text x="39.9" y="726.6" font-size="10" font-weight="bold" stroke="#000" stroke-width="0.3" text-anchor="middle" textLength="15.5" lengthAdjust="spacingAndGlyphs" transform="rotate(-90 39.9 726.6)">100</text>
<text x="90.8" y="850" font-size="10" font-weight="bold" textLength="21" lengthAdjust="spacingAndGlyphs">FITC</text>
<rect x="173.4" y="728.3" width="109.7" height="93.3" fill="none" stroke="#1a1a1a" stroke-width="1.7"/>
<path d="M173.4,821.0H169.1M173.4,817.3H171.1M173.4,813.6H171.1M173.4,809.9H171.1M173.4,806.2H171.1M173.4,802.5H169.1M173.4,798.8H171.1M173.4,795.0H171.1M173.4,791.3H171.1M173.4,787.6H171.1M173.4,783.9H169.1M173.4,780.2H171.1M173.4,776.5H171.1M173.4,772.8H171.1M173.4,769.1H171.1M173.4,765.4H169.1M173.4,761.7H171.1M173.4,758.0H171.1M173.4,754.3H171.1M173.4,750.5H171.1M173.4,746.8H169.1M173.4,743.1H171.1M173.4,739.4H171.1M173.4,735.7H171.1M173.4,732.0H171.1M173.4,728.3H169.1M174.1,821.6V825.6M182.3,821.6V824.2M187.1,821.6V824.2M190.5,821.6V824.2M193.1,821.6V824.2M195.3,821.6V824.2M197.1,821.6V824.2M198.7,821.6V824.2M200.1,821.6V824.2M201.3,821.6V825.6M209.6,821.6V824.2M214.4,821.6V824.2M217.8,821.6V824.2M220.4,821.6V824.2M222.6,821.6V824.2M224.4,821.6V824.2M226.0,821.6V824.2M227.4,821.6V824.2M228.6,821.6V825.6M236.8,821.6V824.2M241.6,821.6V824.2M245.0,821.6V824.2M247.6,821.6V824.2M249.8,821.6V824.2M251.6,821.6V824.2M253.2,821.6V824.2M254.6,821.6V824.2M255.8,821.6V825.6M264.1,821.6V824.2M268.9,821.6V824.2M272.3,821.6V824.2M274.9,821.6V824.2M277.1,821.6V824.2M278.9,821.6V824.2M280.5,821.6V824.2M281.9,821.6V824.2M283.1,821.6V825.6" fill="none" stroke="#000" stroke-width="1.4"/>
<text x="176.7" y="839.4" font-size="10" font-weight="bold" stroke="#000" stroke-width="0.3" text-anchor="end" textLength="8.8" lengthAdjust="spacingAndGlyphs">10</text>
<text x="177.2" y="834.0" font-size="10" font-weight="bold" stroke="#000" stroke-width="0.3" textLength="5.2" lengthAdjust="spacingAndGlyphs">0</text>
<text x="203.9" y="839.4" font-size="10" font-weight="bold" stroke="#000" stroke-width="0.3" text-anchor="end" textLength="8.8" lengthAdjust="spacingAndGlyphs">10</text>
<text x="204.4" y="834.0" font-size="10" font-weight="bold" stroke="#000" stroke-width="0.3" textLength="5.2" lengthAdjust="spacingAndGlyphs">1</text>
<text x="231.2" y="839.4" font-size="10" font-weight="bold" stroke="#000" stroke-width="0.3" text-anchor="end" textLength="8.8" lengthAdjust="spacingAndGlyphs">10</text>
<text x="231.7" y="834.0" font-size="10" font-weight="bold" stroke="#000" stroke-width="0.3" textLength="5.2" lengthAdjust="spacingAndGlyphs">2</text>
<text x="258.4" y="839.4" font-size="10" font-weight="bold" stroke="#000" stroke-width="0.3" text-anchor="end" textLength="8.8" lengthAdjust="spacingAndGlyphs">10</text>
<text x="258.9" y="834.0" font-size="10" font-weight="bold" stroke="#000" stroke-width="0.3" textLength="5.2" lengthAdjust="spacingAndGlyphs">3</text>
<text x="285.7" y="839.4" font-size="10" font-weight="bold" stroke="#000" stroke-width="0.3" text-anchor="end" textLength="8.8" lengthAdjust="spacingAndGlyphs">10</text>
<text x="286.2" y="834.0" font-size="10" font-weight="bold" stroke="#000" stroke-width="0.3" textLength="5.2" lengthAdjust="spacingAndGlyphs">4</text>
<text x="216.6" y="850" font-size="10" font-weight="bold" textLength="21" lengthAdjust="spacingAndGlyphs">FITC</text>
<rect x="300.0" y="727.6" width="109.6" height="92.4" fill="none" stroke="#1a1a1a" stroke-width="1.7"/>
<path d="M300.0,819.4H295.7M300.0,815.7H297.7M300.0,812.1H297.7M300.0,808.4H297.7M300.0,804.7H297.7M300.0,801.0H295.7M300.0,797.4H297.7M300.0,793.7H297.7M300.0,790.0H297.7M300.0,786.4H297.7M300.0,782.7H295.7M300.0,779.0H297.7M300.0,775.3H297.7M300.0,771.7H297.7M300.0,768.0H297.7M300.0,764.3H295.7M300.0,760.6H297.7M300.0,757.0H297.7M300.0,753.3H297.7M300.0,749.6H297.7M300.0,746.0H295.7M300.0,742.3H297.7M300.0,738.6H297.7M300.0,734.9H297.7M300.0,731.3H297.7M300.0,727.6H295.7M300.5,820.0V824.0M308.7,820.0V822.6M313.5,820.0V822.6M316.9,820.0V822.6M319.6,820.0V822.6M321.7,820.0V822.6M323.6,820.0V822.6M325.2,820.0V822.6M326.6,820.0V822.6M327.8,820.0V824.0M336.0,820.0V822.6M340.8,820.0V822.6M344.2,820.0V822.6M346.9,820.0V822.6M349.0,820.0V822.6M350.9,820.0V822.6M352.5,820.0V822.6M353.9,820.0V822.6M355.1,820.0V824.0M363.3,820.0V822.6M368.1,820.0V822.6M371.5,820.0V822.6M374.2,820.0V822.6M376.3,820.0V822.6M378.2,820.0V822.6M379.8,820.0V822.6M381.2,820.0V822.6M382.4,820.0V824.0M390.6,820.0V822.6M395.4,820.0V822.6M398.8,820.0V822.6M401.5,820.0V822.6M403.6,820.0V822.6M405.5,820.0V822.6M407.1,820.0V822.6M408.5,820.0V822.6M409.7,820.0V824.0" fill="none" stroke="#000" stroke-width="1.4"/>
<text x="303.1" y="839.0" font-size="10" font-weight="bold" stroke="#000" stroke-width="0.3" text-anchor="end" textLength="8.8" lengthAdjust="spacingAndGlyphs">10</text>
<text x="303.6" y="833.5" font-size="10" font-weight="bold" stroke="#000" stroke-width="0.3" textLength="5.2" lengthAdjust="spacingAndGlyphs">0</text>
<text x="330.4" y="839.0" font-size="10" font-weight="bold" stroke="#000" stroke-width="0.3" text-anchor="end" textLength="8.8" lengthAdjust="spacingAndGlyphs">10</text>
<text x="330.9" y="833.5" font-size="10" font-weight="bold" stroke="#000" stroke-width="0.3" textLength="5.2" lengthAdjust="spacingAndGlyphs">1</text>
<text x="357.7" y="839.0" font-size="10" font-weight="bold" stroke="#000" stroke-width="0.3" text-anchor="end" textLength="8.8" lengthAdjust="spacingAndGlyphs">10</text>
<text x="358.2" y="833.5" font-size="10" font-weight="bold" stroke="#000" stroke-width="0.3" textLength="5.2" lengthAdjust="spacingAndGlyphs">2</text>
<text x="385.0" y="839.0" font-size="10" font-weight="bold" stroke="#000" stroke-width="0.3" text-anchor="end" textLength="8.8" lengthAdjust="spacingAndGlyphs">10</text>
<text x="385.5" y="833.5" font-size="10" font-weight="bold" stroke="#000" stroke-width="0.3" textLength="5.2" lengthAdjust="spacingAndGlyphs">3</text>
<text x="412.3" y="839.0" font-size="10" font-weight="bold" stroke="#000" stroke-width="0.3" text-anchor="end" textLength="8.8" lengthAdjust="spacingAndGlyphs">10</text>
<text x="412.8" y="833.5" font-size="10" font-weight="bold" stroke="#000" stroke-width="0.3" textLength="5.2" lengthAdjust="spacingAndGlyphs">4</text>
<text x="344.6" y="850" font-size="10" font-weight="bold" textLength="21" lengthAdjust="spacingAndGlyphs">FITC</text>
<polyline points="47.2,694.1 50.4,687.7 53.0,679.2 54.6,664.4 56.2,651.7 57.3,642.1 58.8,631.5 61.0,620.9 63.1,614.0 65.2,618.8 67.3,625.1 70.0,632.6 72.1,640.0 73.2,647.4 74.8,657.0 76.3,664.4 77.9,671.8 80.1,679.2 82.2,686.7 84.8,691.4 87.5,692.3 91.3,691.8 95.4,693.2 100.8,693.6" fill="none" stroke="#000" stroke-width="1.1" stroke-linejoin="round" stroke-linecap="round"/>
<polyline points="46.9,694.2 52.5,693.0 56.7,689.8 61.0,685.6 64.1,678.2 66.8,668.6 69.5,658.0 71.0,650.6 72.1,645.8 73.2,649.5 73.8,652.1 76.5,650.1 79.2,651.4 81.9,649.4 84.6,655.5 87.3,650.1 90.0,653.5 92.0,656.2 94.0,658.8 96.0,660.2 98.1,662.2 100.8,664.2 103.5,666.2 106.1,666.9 108.8,666.9 110.9,668.9 112.2,672.3 114.2,677.0 116.2,681.7 118.3,686.4 121.0,690.5 123.6,691.8 127.7,693.6" fill="none" stroke="#000" stroke-width="2.4" stroke-linejoin="round" stroke-linecap="round"/>
<polyline points="174.6,692.5 178.1,683.4 181.5,662.6 183.8,641.8 186.2,623.4 188.5,618.8 190.8,612.3 193.1,618.8 194.2,630.0 195.0,642.0 197.7,655.5 199.7,664.9 201.7,673.0 203.1,678.4 205.1,683.1 208.5,685.8 212.5,687.8 216.5,689.8 220.6,691.8 226.0,692.5 230.0,693.6" fill="none" stroke="#000" stroke-width="1.1" stroke-linejoin="round" stroke-linecap="round"/>
<polyline points="174.6,693.2 178.0,692.0 181.5,690.6 185.0,690.0 188.5,689.2 191.0,688.0 193.1,686.5 195.0,685.1 197.7,681.7 200.4,680.4 202.4,678.4 204.4,677.0 207.1,676.4 209.1,674.3 211.2,671.0 213.2,667.6 215.2,662.2 216.5,658.2 217.9,652.8 218.6,650.1 220.6,649.4 221.9,647.4 223.3,644.1 224.6,648.8 226.0,655.5 227.3,650.1 229.3,654.2 231.3,655.5 233.4,657.5 235.4,660.9 237.4,658.2 238.7,663.6 240.8,669.0 242.8,673.0 244.8,677.0 247.5,682.4 250.2,685.8 252.9,687.8 255.6,689.8 258.3,691.8 261.0,693.2 263.6,693.6" fill="none" stroke="#000" stroke-width="2.4" stroke-linejoin="round" stroke-linecap="round"/>
<polyline points="300.4,694.6 303.1,692.5 305.8,687.6 307.6,680.4 308.9,669.8 309.8,660.0 310.7,652.9 312.0,647.6 312.9,641.3 313.8,635.1 315.1,635.6 317.3,631.6 319.1,636.0 321.8,638.7 324.0,641.3 325.3,646.7 326.7,655.6 328.4,661.8 330.2,672.4 331.6,676.9 334.2,680.4 336.4,683.6 338.7,687.6 340.9,689.8 343.8,691.5 348.1,692.9 351.7,693.6 356.0,694.5" fill="none" stroke="#000" stroke-width="1.1" stroke-linejoin="round" stroke-linecap="round"/>
<polyline points="327.1,695.2 329.8,692.9 333.3,691.3 339.4,690.8 343.8,689.3 346.6,687.9 351.7,687.9 354.6,684.3 356.0,686.4 359.6,686.4 362.5,685.7 365.4,677.0 368.3,669.8 371.2,658.3 374.1,646.7 377.0,633.8 378.7,625.1 380.6,631.6 383.4,638.8 385.6,652.5 387.8,664.1 389.9,675.6 391.4,685.7 393.5,691.5 395.7,695.1" fill="none" stroke="#000" stroke-width="2.4" stroke-linejoin="round" stroke-linecap="round"/>
<polyline points="48.0,819.6 52.0,814.3 55.0,804.3 56.5,793.2 57.6,779.2 58.6,768.1 60.1,760.1 62.1,750.1 64.6,741.0 66.6,745.0 68.6,749.1 70.6,757.1 72.1,763.1 74.1,771.1 76.1,778.2 78.1,787.2 80.1,797.2 81.1,805.3 83.2,812.3 85.0,815.8 86.9,818.2 90.2,818.5 93.7,817.7 96.5,818.7 102.3,819.3" fill="none" stroke="#000" stroke-width="1.1" stroke-linejoin="round" stroke-linecap="round"/>
<polyline points="48.0,820.2 52.0,817.3 54.5,811.3 56.5,802.3 58.6,791.2 60.6,782.2 63.1,775.2 65.6,765.1 68.1,765.1 71.1,765.1 73.1,770.1 75.1,778.2 77.1,787.2 79.1,795.2 81.1,800.3 83.2,805.3 85.0,806.2 86.9,803.3 88.8,800.4 90.8,799.4 92.7,797.5 94.6,791.7 96.5,792.7 98.5,791.3 99.9,791.7 101.3,794.6 103.3,795.6 105.2,796.5 107.1,801.3 109.0,803.3 111.0,806.2 112.4,810.0 113.8,813.8 115.8,816.7 118.7,819.1 121.5,819.8" fill="none" stroke="#000" stroke-width="2.4" stroke-linejoin="round" stroke-linecap="round"/>
<polyline points="174.0,820.2 175.3,817.5 177.6,813.0 179.8,804.1 181.5,790.7 183.1,776.2 184.3,765.1 185.4,757.3 186.5,750.6 188.7,746.1 190.4,740.0 192.1,743.9 193.7,749.5 194.9,757.3 195.4,765.1 197.1,777.4 198.8,783.0 200.4,793.0 202.1,801.9 203.8,809.7 206.6,811.9 209.9,814.2 213.2,815.8 216.6,817.5 221.1,818.6 228.5,818.8 231.0,820.2" fill="none" stroke="#000" stroke-width="1.1" stroke-linejoin="round" stroke-linecap="round"/>
<polyline points="173.6,820.5 176.5,816.9 179.8,815.8 182.6,808.6 184.8,804.1 186.5,797.4 188.2,790.7 189.8,786.3 191.5,778.5 193.2,772.9 194.9,767.3 197.1,770.7 199.3,772.9 200.4,777.4 202.1,783.0 204.3,789.6 206.6,796.3 208.2,801.9 210.5,803.0 213.8,803.0 214.9,797.4 216.6,794.1 217.7,797.4 220.0,796.5 222.4,790.8 224.3,792.7 225.8,795.6 227.2,790.8 229.1,786.9 231.1,784.5 233.5,783.1 235.9,780.2 237.8,783.6 240.2,785.5 242.1,786.9 243.6,791.7 244.5,797.5 246.4,799.4 248.4,803.3 250.3,807.1 252.2,811.9 254.1,814.8 257.0,816.7 259.4,818.2 261.3,820.3" fill="none" stroke="#000" stroke-width="2.4" stroke-linejoin="round" stroke-linecap="round"/>
<polyline points="301.3,819.0 304.1,813.0 306.4,804.1 308.0,790.7 309.1,779.6 310.3,768.4 311.9,758.4 313.0,750.6 314.2,740.6 315.8,746.1 318.1,747.3 320.3,752.8 322.5,759.5 324.2,762.9 325.3,770.7 326.4,777.4 328.1,784.1 329.8,791.9 331.4,799.7 333.7,804.1 336.5,808.6 339.2,811.9 342.6,814.7 347.1,816.9 351.5,818.1 353.0,819.5" fill="none" stroke="#000" stroke-width="1.1" stroke-linejoin="round" stroke-linecap="round"/>
<polyline points="301.3,819.4 305.8,818.1 310.3,817.5 314.7,815.8 317.5,813.6 320.9,813.0 323.1,809.7 325.3,805.2 327.0,801.9 329.2,803.0 331.4,804.1 333.7,806.3 335.3,804.1 337.0,803.6 338.7,804.7 340.9,800.8 343.2,798.5 345.4,795.8 347.6,791.9 349.3,795.8 351.0,792.4 352.5,794.5 354.5,795.7 357.2,794.6 358.8,789.3 360.9,787.2 363.0,783.0 365.6,777.2 367.2,781.9 369.9,785.6 371.5,791.5 373.6,798.9 375.7,804.2 377.8,809.4 379.9,812.6 383.1,814.2 385.7,815.8 388.4,817.4 391.6,817.9 394.2,819.5" fill="none" stroke="#000" stroke-width="2.4" stroke-linejoin="round" stroke-linecap="round"/>
</svg></body></html>
